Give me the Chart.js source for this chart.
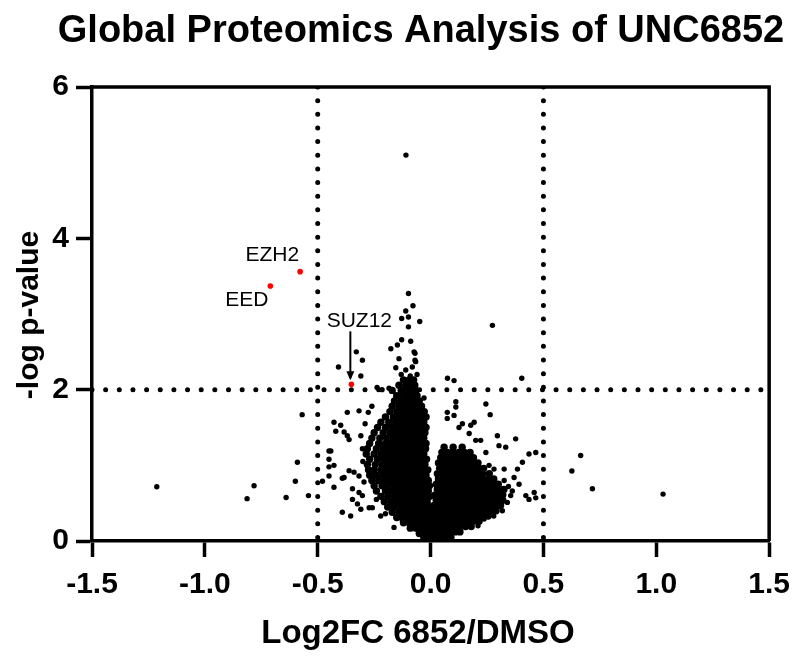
<!DOCTYPE html>
<html>
<head>
<meta charset="utf-8">
<script src="https://cdn.jsdelivr.net/npm/chart.js@4.4.1/dist/chart.umd.min.js"></script>
<style>
  html, body { margin: 0; padding: 0; background: #fff; }
  #wrap { width: 800px; height: 665px; }
</style>
</head>
<body>
<div id="wrap"><canvas id="volcano" width="800" height="665"></canvas></div>
<script>
// ---- data ----
const xTicks = [-1.5, -1.0, -0.5, 0, 0.5, 1.0, 1.5];
const yTicks = [0, 2, 4, 6];
const foldCutoffs = [-0.5, 0.5];
const pCutoff = 2;

// labelled PRC2 members (red)
const hitNames = ['EZH2', 'EED', 'SUZ12'];
const hitFC = [-0.578, -0.71, -0.351];
const hitP = [3.56, 3.37, 2.07];

// dense left wing of the cloud: [ -log p, [log2FC, ...] ]
const leftWingRows = [
  [0.04, [-0.03, -0.01, 0.01, 0.025]],
  [0.10, [-0.05, -0.03, -0.01, 0.005, 0.02]],
  [0.17, [-0.09, -0.065, -0.04, -0.02, 0.0, 0.012]],
  [0.24, [-0.12, -0.095, -0.07, -0.05, -0.03, -0.01, 0.005]],
  [0.31, [-0.15, -0.125, -0.1, -0.075, -0.055, -0.035, -0.015, 0.005]],
  [0.38, [-0.17, -0.14, -0.115, -0.09, -0.065, -0.045, -0.025, -0.005]],
  [0.45, [-0.19, -0.16, -0.13, -0.105, -0.08, -0.06, -0.04, -0.02, 0.0]],
  [0.52, [-0.205, -0.175, -0.15, -0.125, -0.1, -0.075, -0.055, -0.035, -0.015]],
  [0.59, [-0.22, -0.19, -0.16, -0.135, -0.11, -0.085, -0.06, -0.04, -0.02, -0.003]],
  [0.66, [-0.24, -0.2, -0.175, -0.15, -0.125, -0.1, -0.075, -0.05, -0.03, -0.01]],
  [0.73, [-0.25, -0.215, -0.19, -0.16, -0.135, -0.11, -0.085, -0.06, -0.04, -0.02, -0.005]],
  [0.80, [-0.26, -0.23, -0.2, -0.175, -0.15, -0.125, -0.1, -0.075, -0.05, -0.03, -0.01]],
  [0.87, [-0.27, -0.24, -0.21, -0.185, -0.16, -0.135, -0.11, -0.085, -0.06, -0.04, -0.02]],
  [0.94, [-0.275, -0.25, -0.22, -0.195, -0.17, -0.145, -0.12, -0.095, -0.07, -0.05, -0.03, -0.012]],
  [1.01, [-0.28, -0.245, -0.215, -0.19, -0.165, -0.14, -0.115, -0.09, -0.065, -0.045, -0.025]],
  [1.08, [-0.27, -0.235, -0.205, -0.18, -0.155, -0.13, -0.105, -0.08, -0.06, -0.04, -0.018]],
  [1.15, [-0.285, -0.25, -0.22, -0.195, -0.17, -0.145, -0.12, -0.095, -0.07, -0.05, -0.03]],
  [1.22, [-0.28, -0.24, -0.21, -0.185, -0.16, -0.135, -0.11, -0.085, -0.065, -0.045, -0.022]],
  [1.29, [-0.27, -0.23, -0.2, -0.175, -0.15, -0.125, -0.1, -0.08, -0.06, -0.04, -0.02]],
  [1.36, [-0.26, -0.225, -0.195, -0.165, -0.14, -0.115, -0.09, -0.07, -0.05, -0.03]],
  [1.43, [-0.25, -0.21, -0.18, -0.155, -0.13, -0.105, -0.085, -0.065, -0.045, -0.025]],
  [1.50, [-0.235, -0.2, -0.17, -0.145, -0.12, -0.1, -0.08, -0.06, -0.04, -0.02]],
  [1.57, [-0.22, -0.185, -0.155, -0.13, -0.11, -0.09, -0.07, -0.05, -0.03]],
  [1.64, [-0.2, -0.165, -0.14, -0.12, -0.1, -0.08, -0.06, -0.04, -0.02]],
  [1.71, [-0.18, -0.15, -0.125, -0.105, -0.085, -0.065, -0.045, -0.028]],
  [1.78, [-0.17, -0.14, -0.115, -0.095, -0.075, -0.055, -0.04]],
  [1.85, [-0.16, -0.13, -0.105, -0.085, -0.065, -0.05]],
  [1.92, [-0.15, -0.12, -0.1, -0.08, -0.06]],
  [1.99, [-0.17, -0.13, -0.105, -0.085, -0.065]],
  [2.06, [-0.14, -0.11, -0.09, -0.07]],
  [2.13, [-0.12, -0.095, -0.075]]
];

// dense right wing of the cloud
const rightWingRows = [
  [0.05, [0.005, 0.025, 0.045, 0.07, 0.09]],
  [0.12, [0.015, 0.035, 0.06, 0.085, 0.11, 0.13]],
  [0.19, [0.005, 0.03, 0.055, 0.08, 0.105, 0.13, 0.155, 0.18]],
  [0.26, [0.015, 0.04, 0.065, 0.09, 0.115, 0.14, 0.165, 0.19, 0.215]],
  [0.33, [0.01, 0.035, 0.06, 0.085, 0.11, 0.135, 0.16, 0.185, 0.21, 0.235, 0.255]],
  [0.40, [0.02, 0.045, 0.07, 0.095, 0.12, 0.145, 0.17, 0.195, 0.22, 0.245, 0.27, 0.29]],
  [0.47, [0.015, 0.04, 0.065, 0.09, 0.115, 0.14, 0.165, 0.19, 0.215, 0.24, 0.265, 0.29, 0.31]],
  [0.54, [0.025, 0.05, 0.075, 0.1, 0.125, 0.15, 0.175, 0.2, 0.225, 0.25, 0.275, 0.3, 0.32]],
  [0.61, [0.02, 0.045, 0.07, 0.095, 0.12, 0.145, 0.17, 0.195, 0.22, 0.245, 0.27, 0.295, 0.32]],
  [0.68, [0.03, 0.055, 0.08, 0.105, 0.13, 0.155, 0.18, 0.205, 0.23, 0.255, 0.28, 0.305, 0.325]],
  [0.75, [0.025, 0.05, 0.075, 0.1, 0.125, 0.15, 0.175, 0.2, 0.225, 0.25, 0.275, 0.3]],
  [0.82, [0.035, 0.06, 0.085, 0.11, 0.135, 0.16, 0.185, 0.21, 0.235, 0.26, 0.28]],
  [0.89, [0.03, 0.055, 0.08, 0.105, 0.13, 0.155, 0.18, 0.205, 0.23, 0.26]],
  [0.96, [0.04, 0.065, 0.09, 0.115, 0.14, 0.165, 0.19, 0.215, 0.235]],
  [1.03, [0.035, 0.06, 0.085, 0.11, 0.135, 0.16, 0.185, 0.21]],
  [1.10, [0.045, 0.07, 0.095, 0.12, 0.145, 0.17, 0.19]],
  [1.17, [0.05, 0.075, 0.1, 0.125, 0.15, 0.175]],
  [1.24, [0.06, 0.1, 0.14]]
];

// individually visible proteins: [log2FC, -log p]
const scatteredProteins = [
  [-1.213, 0.717], [-0.813, 0.56], [-0.782, 0.73], [-0.64, 0.575], [-0.599, 0.79],
  [-0.59, 1.04], [-0.569, 1.67], [-0.541, 0.60], [-0.479, 0.79], [-0.45, 1.19],
  [-0.45, 0.98], [-0.45, 0.86],
  [-0.408, 2.30], [-0.329, 2.50], [-0.302, 2.39], [-0.309, 2.18],
  [-0.109, 5.10], [-0.098, 3.27], [-0.078, 3.11], [-0.11, 3.04], [-0.128, 2.94],
  [-0.098, 2.96], [-0.048, 2.90], [-0.098, 2.83], [-0.128, 2.66], [-0.088, 2.64],
  [-0.176, 2.54], [-0.147, 2.59], [-0.069, 2.48], [-0.069, 2.39], [-0.14, 2.41],
  [-0.154, 2.29], [-0.081, 2.30], [-0.11, 2.26], [-0.066, 2.37], [-0.073, 2.50],
  [-0.13, 2.2], [-0.09, 2.18], [-0.06, 2.2],
  [-0.237, 2.03], [-0.215, 2.0], [-0.184, 2.02], [-0.029, 1.89], [-0.26, 1.78],
  [-0.369, 1.70], [-0.317, 1.72], [-0.276, 1.70], [-0.428, 1.57], [-0.398, 1.53],
  [-0.42, 1.45], [-0.383, 1.44], [-0.369, 1.39], [-0.361, 1.34], [-0.309, 1.39],
  [-0.302, 1.22], [-0.442, 1.19], [-0.45, 1.08], [-0.428, 1.0], [-0.361, 0.93],
  [-0.339, 0.91], [-0.391, 0.83], [-0.317, 0.86], [-0.383, 0.84], [-0.428, 0.71],
  [-0.346, 0.69], [-0.317, 0.64], [-0.346, 0.55], [-0.302, 0.60], [-0.324, 0.49],
  [-0.309, 0.42], [-0.391, 0.38], [-0.354, 0.33], [-0.272, 0.44], [-0.258, 0.44],
  [-0.221, 0.33], [-0.162, 0.18], [-0.125, 0.27], [-0.3, 1.05], [-0.295, 0.78],
  [-0.29, 1.55], [-0.24, 0.55], [-0.2, 0.36],
  [0.274, 2.85], [0.075, 2.15], [0.104, 2.12], [0.404, 2.15], [0.245, 1.81],
  [0.264, 1.67], [0.074, 1.70], [0.112, 1.84], [0.112, 1.77], [0.104, 1.66],
  [0.074, 1.62], [0.141, 1.55], [0.126, 1.50], [0.193, 1.57], [0.178, 1.53],
  [0.171, 1.42], [0.20, 1.33], [0.222, 1.33], [0.296, 1.39], [0.303, 1.26],
  [0.333, 1.24], [0.377, 1.35], [0.245, 1.17], [0.259, 1.0], [0.281, 0.95],
  [0.326, 0.95], [0.326, 0.80], [0.385, 0.95], [0.407, 1.04], [0.436, 1.15],
  [0.466, 1.17], [0.37, 0.84], [0.392, 0.75], [0.362, 0.66], [0.355, 0.60],
  [0.34, 0.51], [0.303, 0.46], [0.318, 0.40], [0.422, 0.60], [0.436, 0.55],
  [0.466, 0.57], [0.459, 0.64], [0.237, 0.29], [0.089, 0.07], [0.345, 0.72],
  [0.28, 0.33], [0.21, 0.2],
  [0.665, 1.13], [0.626, 0.925], [0.717, 0.69], [1.03, 0.62]
];

// ---- build chart ----
const FONT = "'Liberation Sans', Arial, sans-serif";

function expandRows(rows) {
  const pts = [];
  rows.forEach(([y, xs]) => xs.forEach(x => pts.push({ x, y })));
  return pts;
}

const cloudPoints = expandRows(leftWingRows).concat(expandRows(rightWingRows));
const scatterPoints = scatteredProteins.map(([x, y]) => ({ x, y }));
const hitPoints = hitFC.map((x, i) => ({ x, y: hitP[i] }));

function dottedLine(data) {
  return {
    type: 'line',
    data,
    borderColor: '#000',
    borderWidth: 5,
    borderDash: [0, 13.65],
    borderCapStyle: 'round',
    pointRadius: 0,
    fill: false,
    order: 5
  };
}

// frame, titles and hit labels
const decorations = {
  id: 'decorations',
  afterDraw(chart) {
    const { ctx, chartArea: a, scales: { x, y } } = chart;
    ctx.save();
    ctx.strokeStyle = '#000';
    ctx.lineWidth = 3.5;
    ctx.beginPath();
    ctx.moveTo(a.left, a.top);
    ctx.lineTo(a.right, a.top);
    ctx.lineTo(a.right, a.bottom);
    ctx.stroke();

    ctx.fillStyle = '#000';
    ctx.textAlign = 'center';
    ctx.textBaseline = 'alphabetic';
    ctx.font = 'bold 38px ' + FONT;
    ctx.fillText('Global Proteomics Analysis of UNC6852', 421, 42);

    ctx.font = 'bold 33px ' + FONT;
    ctx.fillText('Log2FC 6852/DMSO', 418, 643);

    ctx.save();
    ctx.translate(38, 315);
    ctx.rotate(-Math.PI / 2);
    ctx.font = 'bold 30px ' + FONT;
    ctx.fillText('-log p-value', 0, 0);
    ctx.restore();

    // hit labels
    ctx.font = '21px ' + FONT;
    ctx.textBaseline = 'middle';
    const px = hitFC.map(v => x.getPixelForValue(v));
    const py = hitP.map(v => y.getPixelForValue(v));
    ctx.textAlign = 'right';
    ctx.fillText(hitNames[0], px[0] - 1, py[0] - 16);
    ctx.fillText(hitNames[1], px[1] - 2, py[1] + 14);
    ctx.textAlign = 'center';
    ctx.fillText(hitNames[2], px[2] + 8, py[2] - 63);

    // SUZ12 arrow
    ctx.lineWidth = 2;
    ctx.beginPath();
    ctx.moveTo(px[2] - 1, py[2] - 53);
    ctx.lineTo(px[2] - 1, py[2] - 6);
    ctx.stroke();
    ctx.beginPath();
    ctx.moveTo(px[2] - 5, py[2] - 13);
    ctx.lineTo(px[2] - 1, py[2] - 4);
    ctx.lineTo(px[2] + 3, py[2] - 13);
    ctx.closePath();
    ctx.fill();
    ctx.restore();
  }
};

new Chart(document.getElementById('volcano'), {
  type: 'scatter',
  data: {
    datasets: [
      dottedLine([{ x: foldCutoffs[0], y: 6 }, { x: foldCutoffs[0], y: 0 }]),
      dottedLine([{ x: foldCutoffs[1], y: 6 }, { x: foldCutoffs[1], y: 0 }]),
      dottedLine([{ x: -1.5, y: pCutoff }, { x: 1.5, y: pCutoff }]),
      {
        data: cloudPoints,
        backgroundColor: '#000',
        borderWidth: 0,
        pointRadius: 3.7,
        order: 3
      },
      {
        data: scatterPoints,
        backgroundColor: '#000',
        borderWidth: 0,
        pointRadius: 2.7,
        order: 2
      },
      {
        data: hitPoints,
        backgroundColor: '#ff0000',
        borderWidth: 0,
        pointRadius: 2.8,
        order: 1
      }
    ]
  },
  options: {
    responsive: false,
    animation: false,
    events: [],
    layout: { padding: { top: 87, right: 30, left: 0, bottom: 0 } },
    plugins: {
      legend: { display: false },
      tooltip: { enabled: false }
    },
    scales: {
      x: {
        type: 'linear',
        min: -1.5,
        max: 1.5,
        afterBuildTicks: s => { s.ticks = xTicks.map(v => ({ value: v })); },
        afterFit: s => { s.height = 124; },
        ticks: {
          color: '#000',
          padding: 10,
          font: { family: FONT, size: 30, weight: 'bold' },
          callback: v => v.toFixed(1)
        },
        grid: {
          drawOnChartArea: false,
          tickLength: 16,
          tickWidth: 3.5,
          tickColor: '#000'
        },
        border: { display: true, color: '#000', width: 3.5 }
      },
      y: {
        type: 'linear',
        min: 0,
        max: 6,
        afterBuildTicks: s => { s.ticks = yTicks.map(v => ({ value: v })); },
        afterFit: s => { s.width = 92; },
        ticks: {
          color: '#000',
          padding: 7,
          font: { family: FONT, size: 30, weight: 'bold' }
        },
        grid: {
          drawOnChartArea: false,
          tickLength: 16,
          tickWidth: 3.5,
          tickColor: '#000'
        },
        border: { display: true, color: '#000', width: 3.5 }
      }
    }
  },
  plugins: [decorations]
});
</script>
</body>
</html>
